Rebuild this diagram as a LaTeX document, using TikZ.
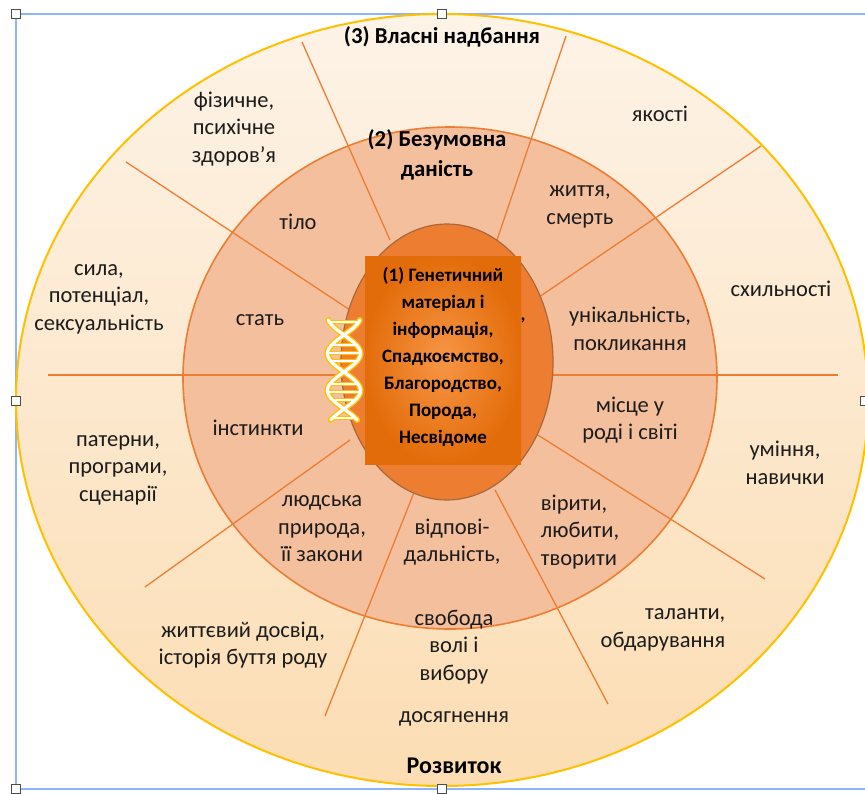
\documentclass[tikz,border=0pt]{standalone}
\usepackage{fontspec}
\setmainfont{Carlito}
\definecolor{txt}{HTML}{1C1C1C}
\definecolor{lineor}{HTML}{ED7D31}
\definecolor{midfill}{HTML}{F4BF9C}
\definecolor{innerfill}{HTML}{ED7D31}
\definecolor{innerline}{HTML}{A8683A}
\definecolor{gold}{HTML}{FFC000}
\definecolor{frameb}{HTML}{8DB3FA}
\definecolor{outertop}{HTML}{FDF3E7}
\definecolor{outermid}{HTML}{FDEFDC}
\definecolor{outerbot}{HTML}{FCDDB3}
\definecolor{boxin}{HTML}{F79646}
\definecolor{boxout}{HTML}{E36C0A}
\tikzset{
  lbl/.style={align=center,text=txt,font=\fontsize{22.5}{27.5}\selectfont,inner sep=0pt,yshift=-2pt},
  ttl/.style={align=center,text=black,font=\fontsize{22.8}{30}\selectfont\bfseries,inner sep=0pt,yshift=-1pt},
  ttlb/.style={align=center,text=black,font=\fontsize{24}{30}\selectfont\bfseries,inner sep=0pt},
  ctr/.style={align=center,text=black,font=\fontsize{19}{27}\selectfont\bfseries,inner sep=0pt},
  spoke/.style={draw=lineor,line width=1.3pt},
  handle/.style={draw=black!70,fill=white,line width=0.6pt,minimum size=9pt,inner sep=0pt},
}
\begin{document}
\begin{tikzpicture}[x=1pt,y=-1pt]
\useasboundingbox (0,0) rectangle (865,793);
% selection frame
\draw[frameb,line width=1.2pt] (16,14) rectangle (872,789);
% outer ellipse
\draw[gold,line width=2pt,top color=outertop,middle color=outermid,bottom color=outerbot] (442,400) ellipse (426 and 386);
% middle circle
\draw[lineor,line width=1.6pt,fill=midfill] (450,378) ellipse (267 and 251);
% spokes
\coordinate (s1a) at (48,375);   \coordinate (s1b) at (838,375);
\coordinate (s2a) at (302,42);   \coordinate (s2b) at (390,240);
\coordinate (s3a) at (566,36);   \coordinate (s3b) at (497,240);
\coordinate (s4a) at (761,146);  \coordinate (s4b) at (520,310);
\coordinate (s5a) at (126,162);  \coordinate (s5b) at (350,310);
\coordinate (s6a) at (145,587);  \coordinate (s6b) at (350,440);
\coordinate (s7a) at (765,579);  \coordinate (s7b) at (530,430);
\coordinate (s8a) at (325,716);  \coordinate (s8b) at (415,490);
\coordinate (s9a) at (608,704);  \coordinate (s9b) at (495,490);
\foreach \n in {1,...,9} \draw[spoke] (s\n a) -- (s\n b);
% inner ellipse
\draw[innerline,line width=1.2pt,fill=innerfill] (447,362) ellipse (106 and 138);
\node[text=black,font=\fontsize{19}{20}\selectfont\bfseries,inner sep=0pt] (comma) at (523,320) {,};
% central box
\node[rectangle,minimum width=156pt,minimum height=208pt,inner sep=0pt,inner color=boxin,outer color=boxout] (box) at (443,360) {};
\node[ctr,yshift=-1pt] (boxtext) at (443,356) {(1) Генетичний\\матеріал і\\інформація,\\Спадкоємство,\\Благородство,\\Порода,\\Несвідоме};
% DNA icon
\foreach \w/\c in {6/gold,3.2/white}{
  \foreach \y in {322,345,353,361,384,392,400,418}
    \draw[\c,line width=0.6*\w pt] ({344-16*abs(sin((\y-335)*180/37))},\y) -- ({344+16*abs(sin((\y-335)*180/37))},\y);
  \draw[\c,line width=\w pt,line cap=round] plot[smooth,samples=70,domain=320:420,variable=\t] ({344+16.5*sin((\t-335)*180/37)},\t);
  \draw[\c,line width=\w pt,line cap=round] plot[smooth,samples=70,domain=320:420,variable=\t] ({344-16.5*sin((\t-335)*180/37)},\t);
}
% labels
\node[ttl] (t3) at (442,36) {(3) Власні надбання};
\node[ttl] (t2) at (437,154) {(2) Безумовна\\даність};
\node[ttlb] (t4) at (454,766) {Розвиток};
\node[lbl] (a1) at (234,127) {фізичне,\\психічне\\здоров’я};
\node[lbl] (a2) at (660,112) {якості};
\node[lbl] (a3) at (298,220) {тіло};
\node[lbl] (a4) at (580,205) {життя,\\смерть};
\node[lbl] (a5) at (99,297) {сила,\\потенціал,\\сексуальність};
\node[lbl] (a6) at (260,318) {стать};
\node[lbl] (a7) at (781,287) {схильності};
\node[lbl] (a8) at (630,327) {унікальність,\\покликання};
\node[lbl] (a9) at (258,426) {інстинкти};
\node[lbl] (a10) at (630,418) {місце у\\роді і світі};
\node[lbl] (a11) at (118,468) {патерни,\\програми,\\сценарії};
\node[lbl] (a12) at (785,461) {уміння,\\навички};
\node[lbl] (a13) at (322,527) {людська\\природа,\\її закони};
\node[lbl] (a14) at (452,540) {відпові-\\дальність,};
\node[lbl,align=left] (a15) at (580,530) {вірити,\\любити,\\творити};
\node[lbl,align=right] (a16) at (663,628) {таланти,\\обдарування};
\node[lbl] (a17) at (243,643) {життєвий досвід,\\історія буття роду};
\node[lbl] (a18) at (454,645) {свобода\\волі і\\вибору};
\node[lbl] (a19) at (454,717) {досягнення};
% handles
\foreach \p in {(16,14),(442,14),(16,401),(865,401),(16,789),(442,789)}
  \node[handle] at \p {};
\end{tikzpicture}
\end{document}
